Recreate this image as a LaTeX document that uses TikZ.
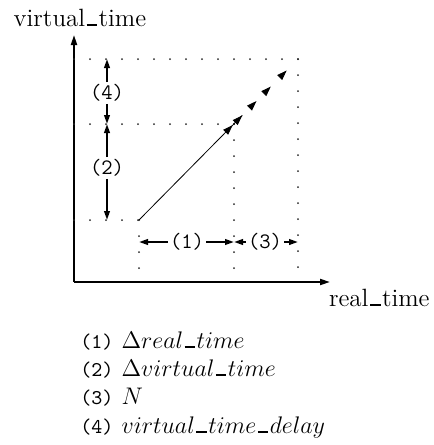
\documentclass[tikz,border=0pt]{standalone}
\usepackage{fontspec}
\usetikzlibrary{arrows.meta,calc,decorations.markings}
\newcommand{\tg}[1]{{\fontsize{10.5}{12}\selectfont\ttfamily(#1)}}
\newcommand{\us}{\mbox{\kern.06em\rule{.42em}{.09em}\kern.06em}}

\begin{document}
\begin{tikzpicture}[x=0.5pt,y=-0.5pt,>={Triangle[length=4.5pt,width=2.8pt]},
 every node/.style={font=\fontsize{12.5}{15}\selectfont,inner sep=1pt},
 grid/.style={line width=1pt,line cap=round,dash pattern=on 0pt off 8pt,black!85},
 dim/.style={->,line width=1pt},
 tag/.style={font=\fontsize{11}{13}\selectfont\ttfamily,inner sep=1pt}]
\useasboundingbox (0,0) rectangle (434,445);
% axes
\coordinate (o) at (74,282);
\coordinate (ytop) at (74,35);
\coordinate (xend) at (330,282);
\draw[line width=1pt,->,>={Triangle[length=5pt,width=3pt]}] (o)--(ytop);
\draw[line width=1pt,->,>={Triangle[length=5pt,width=3pt]}] (o)--(xend);
\node[anchor=base] (vt) at (80,26) {virtual\us time};
\node[anchor=base east] (rt) at (432,306) {real\us time};
% guide points
\coordinate (t) at (74,59);
\coordinate (m) at (74,124);
\coordinate (l) at (74,220);
\coordinate (a) at (139,220);
\coordinate (b) at (234,124);
\coordinate (c) at (298,59);
\draw[grid] (t)--(c);
\draw[grid] (c)--(c|-o);
\draw[grid] (m)--(b);
\draw[grid] (b)--(b|-o);
\draw[grid] (l)--(a);
\draw[grid] (a)--(a|-o);
% slope
\draw[line width=0.4pt] (a)--($(a)!0.65!(c)$);
\path[postaction={decorate},decoration={markings,
 mark=at position 0.59 with {\arrow{Triangle[length=5pt,width=3.4pt]}},
 mark=at position 0.65 with {\arrow{Triangle[length=5pt,width=3.4pt]}},
 mark=at position 0.74 with {\arrow{Triangle[length=5pt,width=3.4pt]}},
 mark=at position 0.83 with {\arrow{Triangle[length=5pt,width=3.4pt]}},
 mark=at position 0.93 with {\arrow{Triangle[length=5pt,width=3.4pt]}}}] (a)--(c);
% intervals
\node[tag] (d4) at (107,93) {(4)};
\node[tag] (d2) at (107,168) {(2)};
\node[tag] (d1) at (187,242) {(1)};
\node[tag] (d3) at (265,242) {(3)};
\draw[dim] (d4)--(d4|-t);
\draw[dim] (d4)--(d4|-m);
\draw[dim] (d2)--(d2|-m);
\draw[dim] (d2)--(d2|-a);
\draw[dim] (d1)--(d1-|a);
\draw[dim] (d1)--(d1-|b);
\draw[dim] (d3)--(d3-|b);
\draw[dim] (d3)--(d3-|c);
% key
\node[anchor=base west] (k1) at (78,348) {\tg{1} $\Delta real\us time$};
\node[anchor=base west] (k2) at (78,376) {\tg{2} $\Delta virtual\us time$};
\node[anchor=base west] (k3) at (78,404) {\tg{3} $N$};
\node[anchor=base west] (k4) at (78,433) {\tg{4} $virtual\us time\us delay$};
\end{tikzpicture}
\end{document}
